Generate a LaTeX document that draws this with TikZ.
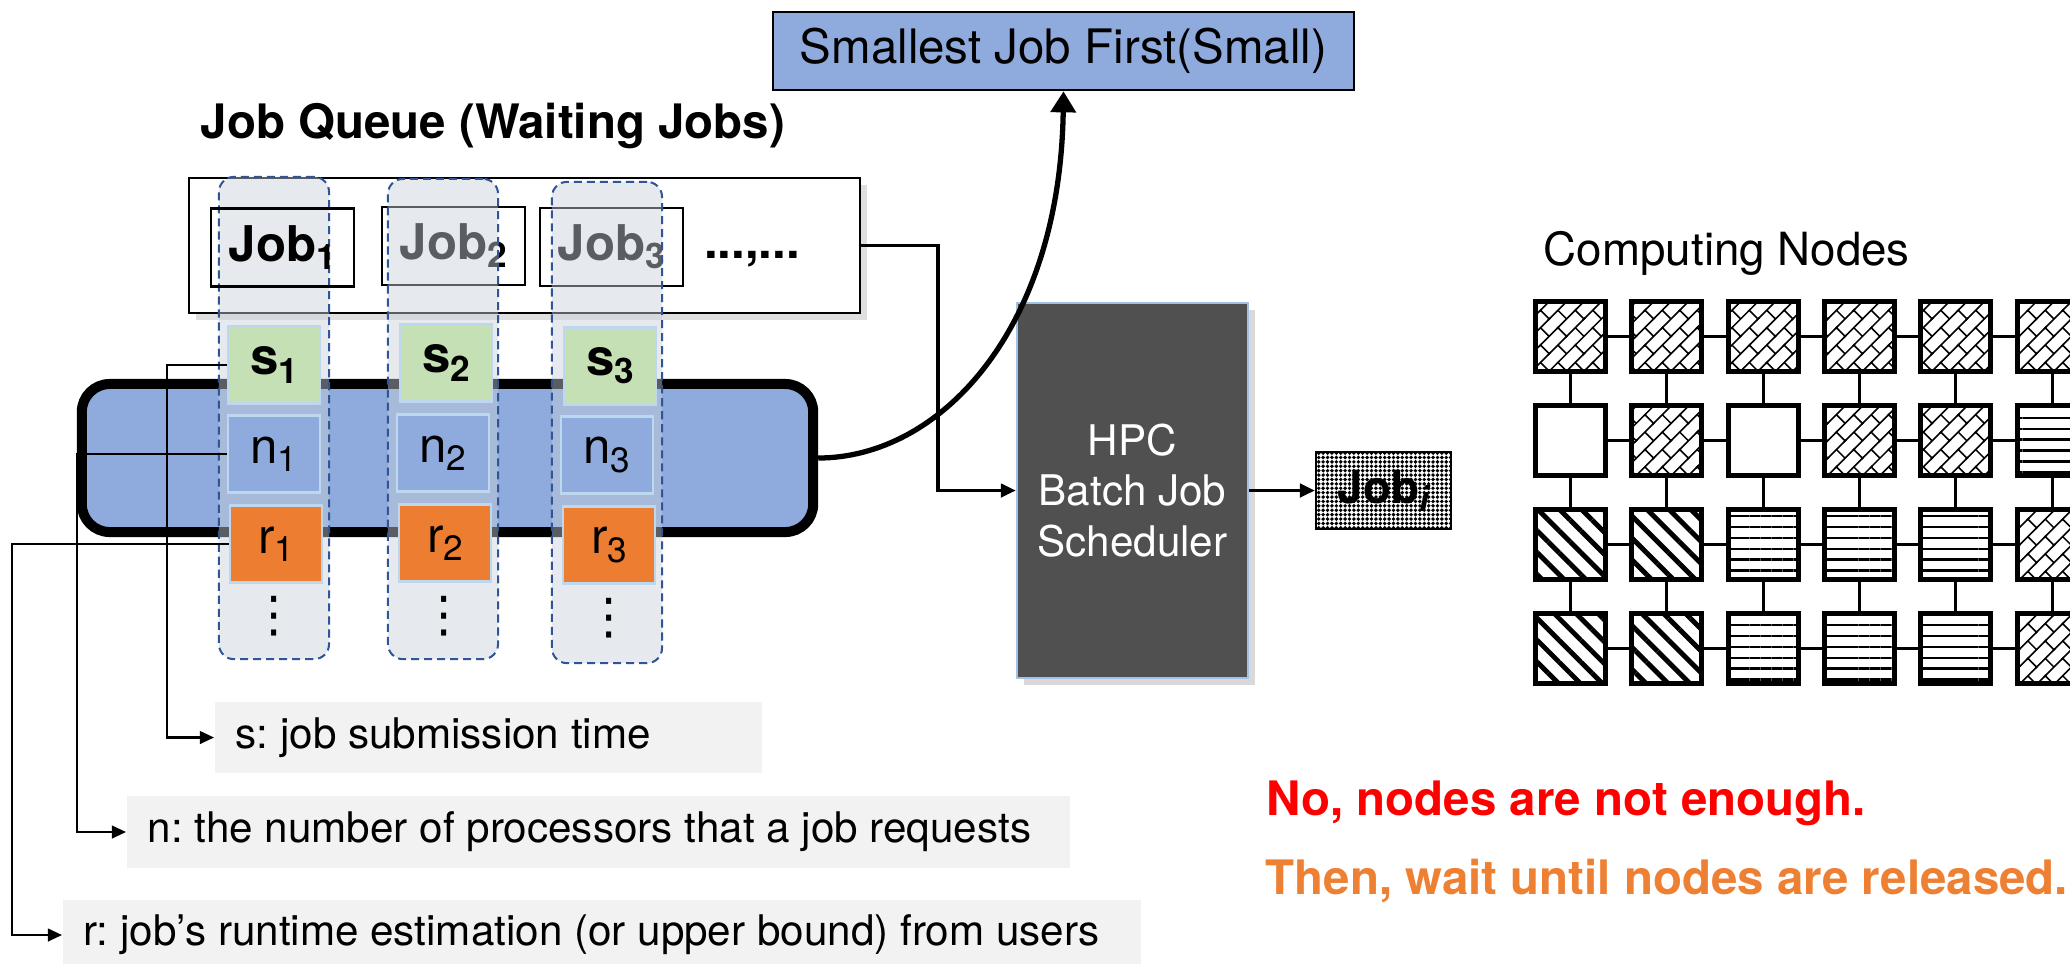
\documentclass[tikz,border=0pt]{standalone}
\usepackage{fontspec}
\setmainfont{TeX Gyre Heros}
\newfontfamily\symfont{DejaVu Sans}
\usetikzlibrary{positioning,arrows.meta,patterns,patterns.meta,shadows}

\definecolor{qblue}{HTML}{8FAADC}
\definecolor{qgreen}{HTML}{C5E0B4}
\definecolor{qorange}{HTML}{ED7D31}
\definecolor{qedge}{HTML}{BDD7EE}
\definecolor{colfill}{RGB}{200,207,217}
\definecolor{coldash}{HTML}{2F5597}
\definecolor{hpcgray}{HTML}{505050}
\definecolor{hpcedge}{HTML}{9DC3E6}
\definecolor{lblfill}{HTML}{F2F2F2}
\definecolor{warnred}{HTML}{FF0000}
\definecolor{warnorange}{HTML}{EE8033}

\tikzdeclarepattern{
  name=diagbricks,
  type=uncolored,
  bounding box={(-0.5pt,-0.5pt) and (7.5pt,7.5pt)},
  tile size={(7pt,7pt)},
  tile transformation={rotate=45},
  code={
    \draw[line width=0.45pt] (-0.5pt,0pt) -- (7.5pt,0pt) (-0.5pt,3.5pt) -- (7.5pt,3.5pt)
      (0pt,0pt) -- (0pt,3.5pt) (3.5pt,3.5pt) -- (3.5pt,7pt);
  }
}

\newcommand{\idx}[1]{\raisebox{-2.3pt}{\fontsize{10}{10}\selectfont #1}}

\begin{document}
\frenchspacing
\begin{tikzpicture}[
    x=0.01cm, y=-0.01cm,
    box/.style={rectangle, draw=qedge, line width=0.6pt, minimum width=0.92cm, minimum height=0.77cm, inner sep=0pt, font=\fontsize{14}{16}\selectfont},
    jobbox/.style={rectangle, draw, line width=0.6pt, minimum width=1.43cm, minimum height=0.78cm, inner sep=0pt, font=\bfseries\fontsize{14}{16}\selectfont},
    jobcol/.style={rectangle, rounded corners=0.15cm, draw=coldash, line width=0.57pt, dash pattern=on 2.3pt off 1.4pt, fill=colfill, fill opacity=0.45, minimum width=1.10cm, minimum height=4.81cm},
    more/.style={font=\symfont\fontsize{14}{16}\selectfont, inner sep=0pt},
    lbl/.style={rectangle, fill=lblfill, inner xsep=0.21cm, inner ysep=0pt, minimum height=0.71cm, anchor=west, font=\fontsize{12}{14}\selectfont},
    lblarrow/.style={-{Triangle[length=4pt, width=3.6pt]}, line width=0.6pt},
    thickarrow/.style={-{Triangle[length=4.3pt, width=3.8pt]}, line width=1pt},
    cnode/.style={rectangle, draw, line width=1.42pt, minimum size=0.70cm, inner sep=0pt},
    wire/.style={line width=0.85pt},
    jobA/.style={pattern=diagbricks},
    jobB/.style={pattern={Lines[angle=-45, distance=4.4pt, line width=1.4pt]}},
    jobC/.style={pattern={Lines[angle=0, distance=3.1pt, line width=0.7pt]}},
    idle/.style={}
]
    \useasboundingbox (0,0) rectangle (2070,963);

    % Policy
    \node[draw, line width=0.7pt, fill=qblue, minimum width=5.81cm, minimum height=0.78cm, font=\fontsize{13.5}{16}\selectfont] (sjf) at (1063.5,51) {Smallest Job First(Small)};

    % Job queue
    \node[anchor=base west, inner sep=0pt, font=\bfseries\fontsize{13.5}{16}\selectfont] (qtitle) at (200,138) {Job Queue (Waiting Jobs)};
    \node[draw, line width=0.6pt, fill=white, minimum width=6.71cm, minimum height=1.35cm, drop shadow={opacity=0.25, shadow xshift=2pt, shadow yshift=-2pt}] (queue) at (524.5,245.5) {};
    \node[draw, line width=2.85pt, fill=qblue, rounded corners=0.28cm, minimum width=7.31cm, minimum height=1.48cm] (bar) at (447.5,458) {};

    \node[jobcol, minimum height=4.82cm] (col1) at (274,418) {};
    \node[jobbox] (job1) at (282.5,247.5) {Job\idx{1}};
    \node[jobbox] (job2) at (453.5,246) {Job\idx{2}};
    \node[jobbox] (job3) at (611.5,247) {Job\idx{3}};
    \node[anchor=base, font=\bfseries\fontsize{14}{16}\selectfont] (etc) at (752,258) {...,...};
    \node[jobcol, minimum height=4.80cm] (col2) at (443,419) {};
    \node[jobcol, minimum height=4.81cm] (col3) at (607,422.5) {};

    % Job attributes
    \node[box, fill=qgreen, font=\bfseries\fontsize{14.5}{16}\selectfont] (s1) at (274,365) {s\idx{1}};
    \node[box, fill=qgreen, font=\bfseries\fontsize{14.5}{16}\selectfont] (s2) at (446,363) {s\idx{2}};
    \node[box, fill=qgreen, font=\bfseries\fontsize{14.5}{16}\selectfont] (s3) at (610,366) {s\idx{3}};
    \node[box, fill=qblue] (n1) at (274,454) {n\idx{1}};
    \node[box, fill=qblue] (n2) at (443,453) {n\idx{2}};
    \node[box, fill=qblue] (n3) at (607,455) {n\idx{3}};
    \node[box, fill=qorange] (r1) at (276,544) {r\idx{1}};
    \node[box, fill=qorange] (r2) at (445,543) {r\idx{2}};
    \node[box, fill=qorange] (r3) at (609,545) {r\idx{3}};
    \node[more] (d1) at (274,616) {⋮};
    \node[more] (d2) at (444,616) {⋮};
    \node[more] (d3) at (609,618) {⋮};

    % Legend
    \node[lbl] (slab) at (214,737.5) {\makebox[5.05cm][l]{s: job submission time}};
    \node[lbl] (nlab) at (126,832) {\makebox[9.01cm][l]{n: the number of processors that a job requests}};
    \node[lbl] (rlab) at (62,935) {\makebox[10.36cm][l]{r: job’s runtime estimation (or upper bound) from users}};

    \coordinate (sx) at (167,0);
    \coordinate (nx) at (77,0);
    \coordinate (rx) at (12,0);
    \draw[lblarrow] (s1.west) -- (s1.west -| sx) |- (slab.west);
    \draw[lblarrow] (n1.west) -- (n1.west -| nx) |- (nlab.west);
    \draw[lblarrow] (r1.west) -- (r1.west -| rx) |- (rlab.west);

    % Scheduler
    \node[draw=hpcedge, line width=0.6pt, fill=hpcgray, text=white, align=center, minimum width=2.31cm, minimum height=3.75cm, font=\fontsize{12}{14.4}\selectfont, drop shadow={opacity=0.3, shadow xshift=2pt, shadow yshift=-2pt}] (hpc) at (1132.5,490.5) {HPC\\Batch Job\\Scheduler};
    \node[draw, line width=0.6pt, pattern={Dots[distance=1.25pt, radius=0.55pt]}, minimum width=1.35cm, minimum height=0.77cm, inner sep=0pt, font=\bfseries\fontsize{13}{15}\selectfont] (jobi) at (1383.5,490.5) {Job\idx{\itshape i}};

    % Arrows
    \coordinate (qx) at (938,0);
    \draw[thickarrow] (queue.east) -- (queue.east -| qx) |- (hpc.west);
    \draw[thickarrow] (hpc) -- (jobi);
    \draw[-{Triangle[length=6pt, width=7pt]}, line width=1.5pt] (bar.east) .. controls (940,458) and (1060,330) .. (sjf.south);

    % Computing nodes
    \node[anchor=base west, inner sep=0pt, font=\fontsize{13}{15}\selectfont] (cntitle) at (1543,265) {Computing Nodes};
    \foreach \kind [count=\i from 0] in {jobA,jobA,jobA,jobA,jobA,jobA, idle,jobA,idle,jobA,jobA,jobC, jobB,jobB,jobC,jobC,jobC,jobA, jobB,jobB,jobC,jobC,jobC,jobA} {
        \pgfmathtruncatemacro{\col}{mod(\i,6)}
        \pgfmathtruncatemacro{\row}{floor(\i/6)}
        \node[cnode, \kind] (c\row\col) at ({1570.5+96.3*\col},{336.5+104*\row}) {};
    }
    \foreach \row in {0,...,3} {
        \foreach \col [evaluate=\col as \nxt using int(\col+1)] in {0,...,4}
            \draw[wire] (c\row\col) -- (c\row\nxt);
    }
    \foreach \col in {0,...,5} {
        \foreach \row [evaluate=\row as \nxt using int(\row+1)] in {0,...,2}
            \draw[wire] (c\row\col) -- (c\nxt\col);
    }

    % Status
    \node[anchor=base west, inner sep=0pt, text=warnred, font=\bfseries\fontsize{13.5}{16}\selectfont] (nomsg) at (1266,815) {No, nodes are not enough.};
    \node[anchor=base west, inner sep=0pt, text=warnorange, font=\bfseries\fontsize{13.5}{16}\selectfont] (waitmsg) at (1265,894) {Then, wait until nodes are released.};

\end{tikzpicture}
\end{document}
